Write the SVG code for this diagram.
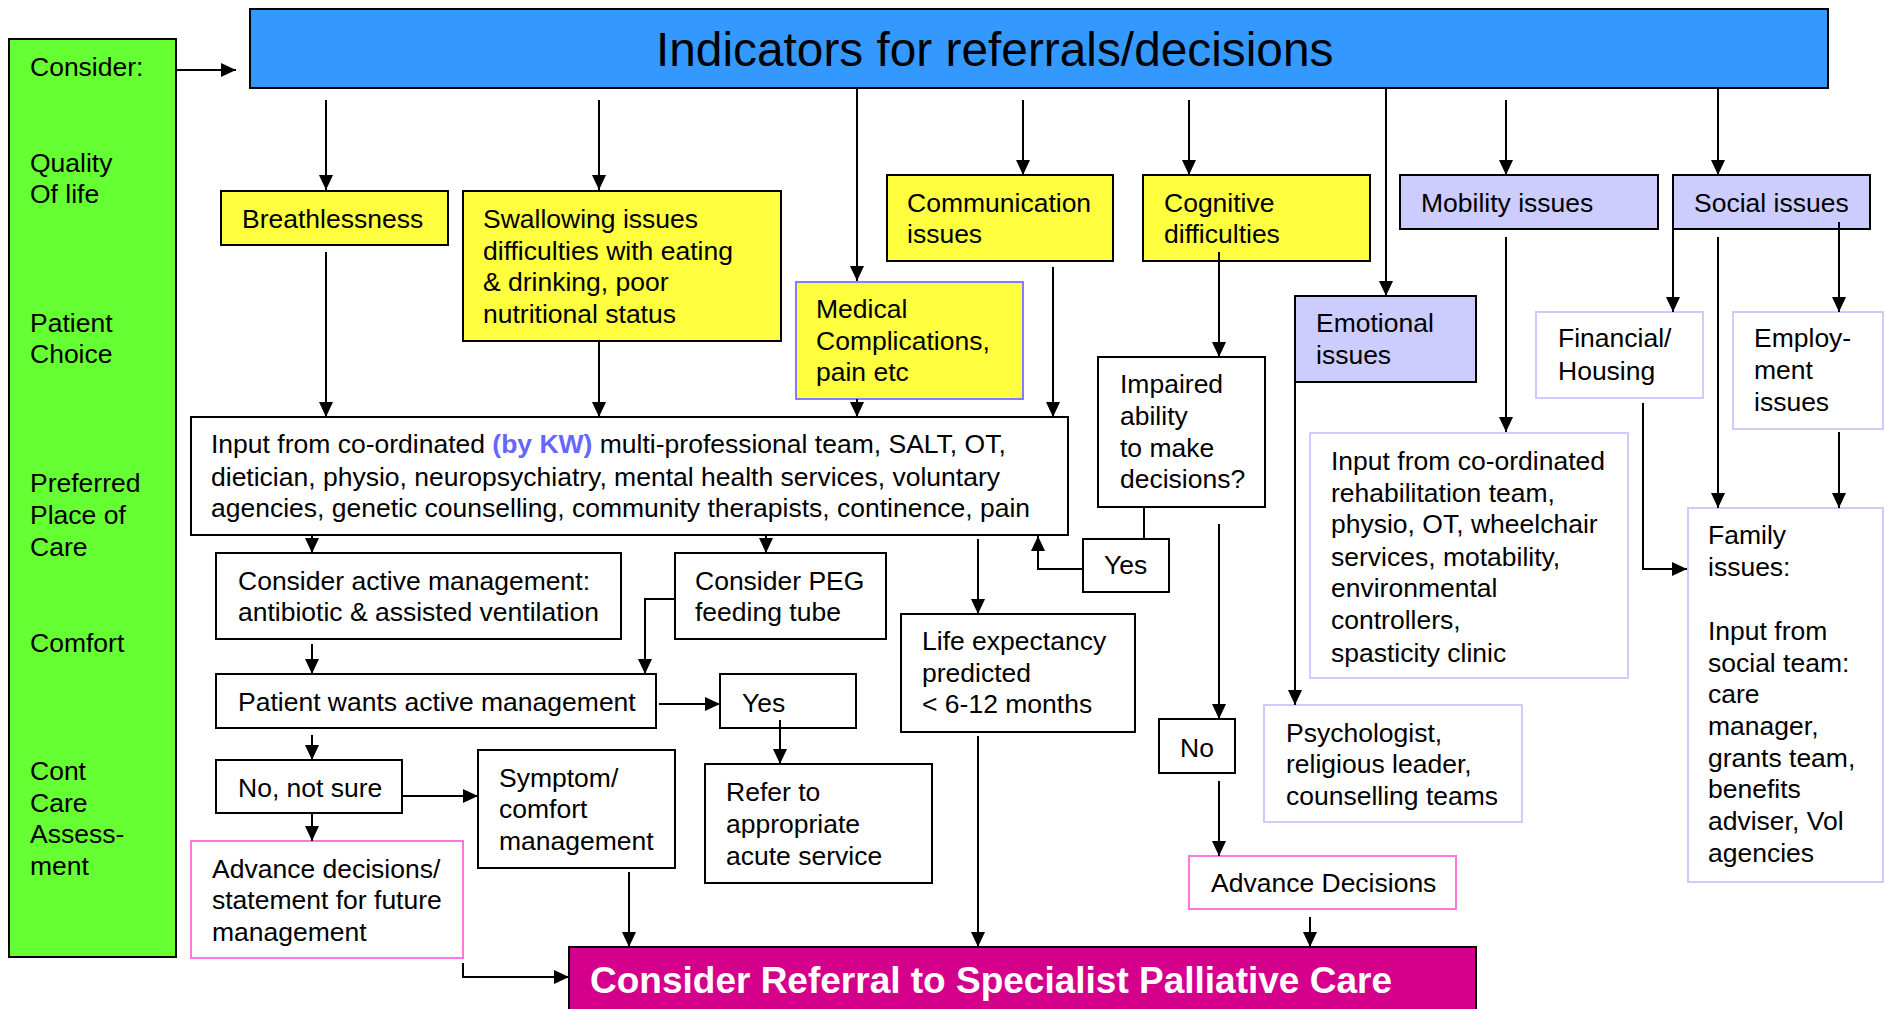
<svg xmlns="http://www.w3.org/2000/svg" width="1885" height="1009" viewBox="0 0 1885 1009">
<defs>
<marker id="ah" markerUnits="userSpaceOnUse" markerWidth="15" markerHeight="14" refX="15" refY="7" orient="auto">
<path d="M0,0 L15,7 L0,14 z" fill="#000"/>
</marker>
<style>
text{font-family:"Liberation Sans",Arial,sans-serif;font-size:26.5px;fill:#000}
.b{stroke:#000;stroke-width:2}
.y{fill:#ffff40}
.l{fill:#ccccff}
.w{fill:#fff}
.lb{fill:#fff;stroke:#ccccff;stroke-width:2}
.pk{fill:#fff;stroke:#ff77dd;stroke-width:2}
#conn path{fill:none;stroke:#000;stroke-width:2;marker-end:url(#ah)}
#conn path.n{marker-end:none}
</style>
</defs>
<rect width="1885" height="1009" fill="#fff"/>
<g id="title"><rect x="250" y="9" width="1578" height="79" fill="#3399ff" class="b"/><text x="656" y="66" style="font-size:47.8px">Indicators for referrals/decisions</text></g>
<g id="consider"><rect x="9" y="39" width="167" height="918" fill="#66ff33" class="b"/>
<text x="30" y="76">Consider:</text>
<text x="30" y="172">Quality</text><text x="30" y="203">Of life</text>
<text x="30" y="332">Patient</text><text x="30" y="363">Choice</text>
<text x="30" y="492">Preferred</text><text x="30" y="524">Place of</text><text x="30" y="556">Care</text>
<text x="30" y="652">Comfort</text>
<text x="30" y="780">Cont</text><text x="30" y="812">Care</text><text x="30" y="843">Assess-</text><text x="30" y="875">ment</text></g>
<g id="breath"><rect x="221" y="191" width="227" height="54" class="y b"/><text x="242" y="228">Breathlessness</text></g>
<g id="swallow"><rect x="463" y="191" width="318" height="150" class="y b"/><text x="483" y="228">Swallowing issues</text><text x="483" y="260">difficulties with eating</text><text x="483" y="291">&amp; drinking, poor</text><text x="483" y="323">nutritional status</text></g>
<g id="medical"><rect x="796" y="282" width="227" height="117" class="y" stroke="#7f7fff" stroke-width="2"/><text x="816" y="318">Medical</text><text x="816" y="350">Complications,</text><text x="816" y="381">pain etc</text></g>
<g id="comm"><rect x="887" y="175" width="226" height="86" class="y b"/><text x="907" y="212">Communication</text><text x="907" y="243">issues</text></g>
<g id="cog"><rect x="1143" y="175" width="227" height="86" class="y b"/><text x="1164" y="212">Cognitive</text><text x="1164" y="243">difficulties</text></g>
<g id="mobility"><rect x="1400" y="175" width="258" height="54" class="l b"/><text x="1421" y="212">Mobility issues</text></g>
<g id="social"><rect x="1673" y="175" width="197" height="54" class="l b"/><text x="1694" y="212">Social issues</text></g>
<g id="emotional"><rect x="1295" y="296" width="181" height="86" class="l b"/><text x="1316" y="332">Emotional</text><text x="1316" y="364">issues</text></g>
<g id="impaired"><rect x="1098" y="357" width="167" height="150" class="w b"/><text x="1120" y="393">Impaired</text><text x="1120" y="425">ability</text><text x="1120" y="457">to make</text><text x="1120" y="488">decisions?</text></g>
<g id="financial"><rect x="1536" y="312" width="167" height="86" class="lb"/><text x="1558" y="347">Financial/</text><text x="1558" y="380">Housing</text></g>
<g id="employment"><rect x="1733" y="312" width="150" height="117" class="lb"/><text x="1754" y="347">Employ-</text><text x="1754" y="379">ment</text><text x="1754" y="411">issues</text></g>
<g id="multi"><rect x="191" y="417" width="877" height="118" class="w b"/><text x="211" y="453">Input from co-ordinated <tspan fill="#6666ff" font-weight="bold">(by KW)</tspan> multi-professional team, SALT, OT,</text><text x="211" y="486">dietician, physio, neuropsychiatry, mental health services, voluntary</text><text x="211" y="517">agencies, genetic counselling, community therapists, continence, pain</text></g>
<g id="active"><rect x="216" y="553" width="405" height="86" class="w b"/><text x="238" y="590">Consider active management:</text><text x="238" y="621">antibiotic &amp; assisted ventilation</text></g>
<g id="peg"><rect x="675" y="553" width="211" height="86" class="w b"/><text x="695" y="590">Consider PEG</text><text x="695" y="621">feeding tube</text></g>
<g id="patient"><rect x="216" y="674" width="440" height="54" class="w b"/><text x="238" y="711">Patient wants active management</text></g>
<g id="yesL"><rect x="720" y="674" width="136" height="54" class="w b"/><text x="742" y="712">Yes</text></g>
<g id="notsure"><rect x="216" y="760" width="186" height="53" class="w b"/><text x="238" y="797">No, not sure</text></g>
<g id="symptom"><rect x="478" y="750" width="197" height="118" class="w b"/><text x="499" y="787">Symptom/</text><text x="499" y="818">comfort</text><text x="499" y="850">management</text></g>
<g id="refer"><rect x="705" y="764" width="227" height="119" class="w b"/><text x="726" y="801">Refer to</text><text x="726" y="833">appropriate</text><text x="726" y="865">acute service</text></g>
<g id="life"><rect x="901" y="614" width="234" height="118" class="w b"/><text x="922" y="650">Life expectancy</text><text x="922" y="682">predicted</text><text x="922" y="713">&lt; 6-12 months</text></g>
<g id="yesR"><rect x="1083" y="539" width="86" height="53" class="w b"/><text x="1104" y="574">Yes</text></g>
<g id="no"><rect x="1159" y="719" width="76" height="54" class="w b"/><text x="1180" y="757">No</text></g>
<g id="rehab"><rect x="1310" y="433" width="318" height="245" class="lb"/><text x="1331" y="470">Input from co-ordinated</text><text x="1331" y="502">rehabilitation team,</text><text x="1331" y="533">physio, OT, wheelchair</text><text x="1331" y="566">services, motability,</text><text x="1331" y="597">environmental</text><text x="1331" y="629">controllers,</text><text x="1331" y="662">spasticity clinic</text></g>
<g id="psych"><rect x="1264" y="705" width="258" height="117" class="lb"/><text x="1286" y="742">Psychologist,</text><text x="1286" y="773">religious leader,</text><text x="1286" y="805">counselling teams</text></g>
<g id="family"><rect x="1688" y="508" width="195" height="374" class="lb"/><text x="1708" y="544">Family</text><text x="1708" y="576">issues:</text><text x="1708" y="640">Input from</text><text x="1708" y="672">social team:</text><text x="1708" y="703">care</text><text x="1708" y="735">manager,</text><text x="1708" y="767">grants team,</text><text x="1708" y="798">benefits</text><text x="1708" y="830">adviser, Vol</text><text x="1708" y="862">agencies</text></g>
<g id="advL"><rect x="191" y="841" width="272" height="117" class="pk"/><text x="212" y="878">Advance decisions/</text><text x="212" y="909">statement for future</text><text x="212" y="941">management</text></g>
<g id="advR"><rect x="1189" y="856" width="267" height="53" class="pk"/><text x="1211" y="892">Advance Decisions</text></g>
<g id="palliative"><rect x="569" y="947" width="907" height="80" fill="#d4008c" class="b"/><text x="590" y="993" style="font-size:37px;font-weight:bold;fill:#fff">Consider Referral to Specialist Palliative Care</text></g>
<g id="conn">
<path d="M176,70 H236"/>
<path d="M326,100 V190"/>
<path d="M599,100 V190"/>
<path d="M857,88 V281"/>
<path d="M1023,100 V175"/>
<path d="M1189,100 V175"/>
<path d="M1386,88 V296"/>
<path d="M1506,100 V175"/>
<path d="M1718,88 V175"/>
<path d="M326,252 V417"/>
<path d="M599,342 V417"/>
<path d="M857,399 V417"/>
<path d="M1053,267 V417"/>
<path d="M1219,252 V357"/>
<path d="M1673,222 V312"/>
<path d="M1839,222 V312"/>
<path d="M1718,237 V508"/>
<path d="M1506,237 V432"/>
<path d="M1295,372 V705"/>
<path d="M1643,403 V569 H1687"/>
<path d="M1839,432 V508"/>
<path d="M312,535 V553"/>
<path d="M766,535 V553"/>
<path d="M978,539 V614"/>
<path class="n" d="M1144,507 V539"/>
<path d="M1083,569 H1038 V536"/>
<path d="M1219,524 V719"/>
<path d="M312,644 V674"/>
<path d="M675,599 H645 V674"/>
<path d="M659,704 H720"/>
<path d="M780,720 V764"/>
<path d="M312,735 V760"/>
<path d="M402,796 H478"/>
<path d="M312,813 V841"/>
<path d="M629,872 V947"/>
<path d="M463,963 V977 H569"/>
<path d="M978,736 V947"/>
<path d="M1219,781 V856"/>
<path d="M1310,917 V947"/>
</g>
</svg>
